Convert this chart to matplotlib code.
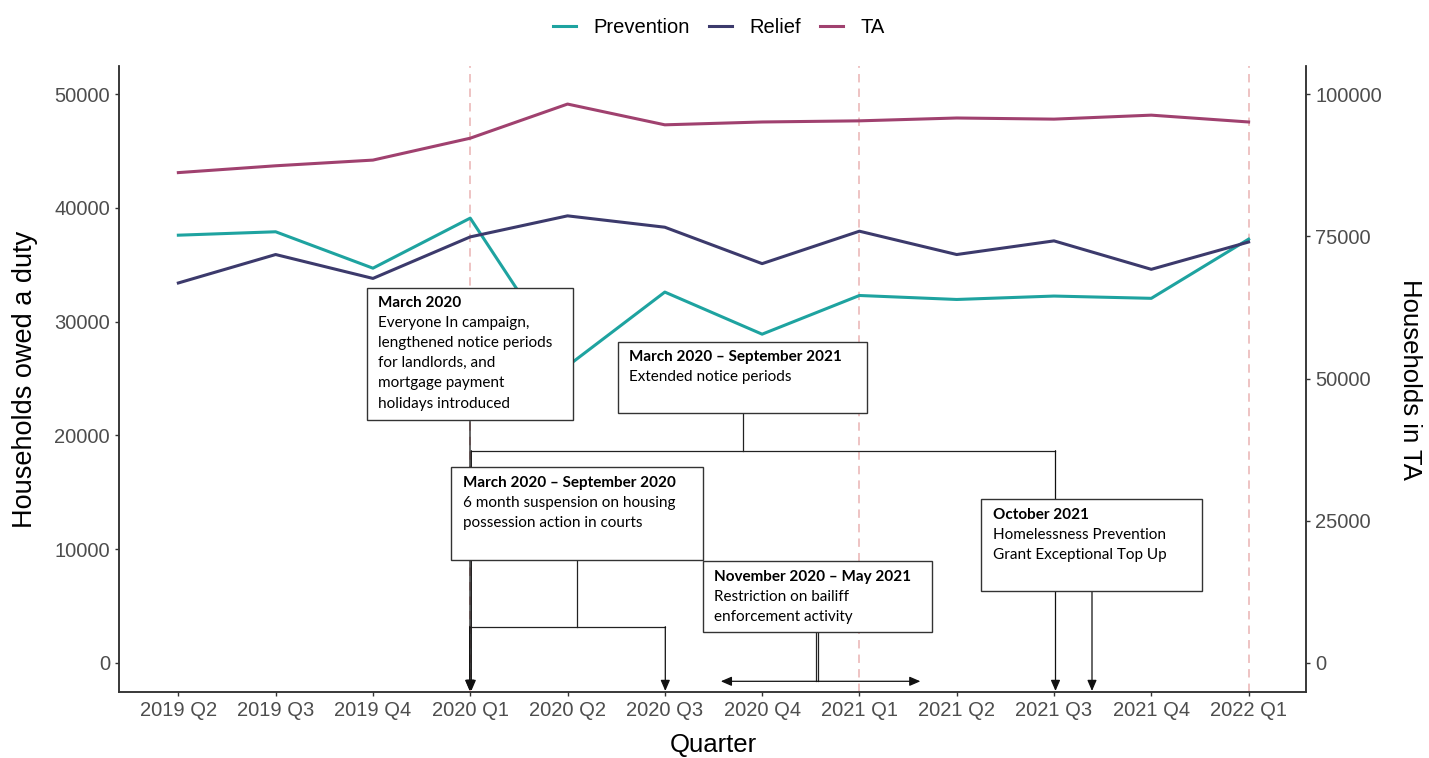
import matplotlib
matplotlib.use("Agg")
import matplotlib.pyplot as plt
from matplotlib.transforms import Affine2D
from matplotlib.patches import Rectangle, FancyArrowPatch
from matplotlib.lines import Line2D

# ---------------- data ----------------
quarters = ["2019 Q2", "2019 Q3", "2019 Q4", "2020 Q1", "2020 Q2", "2020 Q3",
            "2020 Q4", "2021 Q1", "2021 Q2", "2021 Q3", "2021 Q4", "2022 Q1"]
prevention = [37600, 37900, 34700, 39100, 26100, 32600, 28900, 32300, 31950, 32250, 32050, 37250]
relief = [33400, 35900, 33800, 37450, 39300, 38300, 35100, 37950, 35900, 37100, 34600, 37000]
ta = [86200, 87400, 88400, 92250, 98250, 94600, 95100, 95300, 95800, 95600, 96300, 95100]
marker_quarters = ["2020 Q1", "2021 Q1", "2022 Q1"]
left_ticks = [0, 10000, 20000, 30000, 40000, 50000]
right_ticks = [0, 25000, 50000, 75000, 100000]

C_PREV = "#1ea3a0"
C_REL = "#3c3a6c"
C_TA = "#a0416f"
C_DASH = "#eab3b3"
TICKC = "#4d4d4d"

W, H = 1429, 758
fig = plt.figure(figsize=(W / 100, H / 100), dpi=100)
ax = fig.add_axes([119 / W, (H - 692) / H, (1306 - 119) / W, (692 - 66) / H])
ax2 = ax.twinx()

x = list(range(len(quarters)))
for q in marker_quarters:
    ax.axvline(quarters.index(q), color=C_DASH, lw=1.1, ls=(0, (5.5, 4.0)), zorder=1)

l1, = ax.plot(x, prevention, color=C_PREV, lw=2.2, label="Prevention", zorder=3)
l2, = ax.plot(x, relief, color=C_REL, lw=2.2, label="Relief", zorder=3)
l3, = ax2.plot(x, ta, color=C_TA, lw=2.2, label="TA", zorder=3)

ax.set_xlim(-0.61, 11.59)
ax.set_ylim(-2550, 52470)
ax2.set_ylim(-5100, 104940)
ax.set_xticks(x)
ax.set_xticklabels(quarters)
ax.set_yticks(left_ticks)
ax.set_yticklabels([str(v) for v in left_ticks])
ax2.set_yticks(right_ticks)
ax2.set_yticklabels([str(v) for v in right_ticks])

FONT = "Liberation Sans"
for a in (ax, ax2):
    a.spines["top"].set_visible(False)
    for s in ("left", "right", "bottom"):
        a.spines[s].set_color("#333333")
        a.spines[s].set_linewidth(1.1)
    a.tick_params(colors="#333333", labelcolor=TICKC, labelsize=14.5, length=3, width=1.0, pad=3.5)
    for lab in a.get_xticklabels() + a.get_yticklabels():
        lab.set_fontfamily(FONT)
ax.patch.set_visible(False)

ax.set_xlabel("Quarter", fontsize=18.5, fontfamily=FONT)
ax.set_ylabel("Households owed a duty", fontsize=19.5, fontfamily=FONT)
ax2.set_ylabel("Households in TA", fontsize=18.5, fontfamily=FONT, rotation=270, va="center")
ax.xaxis.set_label_coords(0.501, -0.066)
ax.yaxis.set_label_coords(-0.068, 0.5)
ax2.yaxis.set_label_coords(1.088, 0.5)

fig.legend(handles=[l1, l2, l3], loc="upper center", bbox_to_anchor=(0.503, 1.0), ncol=3,
           frameon=False, prop={"family": FONT, "size": 14.5}, handlelength=1.15,
           columnspacing=0.95, handletextpad=0.85)

# ---------------- annotations (reference pixel coords) ----------------
tr = Affine2D().scale(1 / W, -1 / H).translate(0, 1) + fig.transFigure
EDGE = "#333333"
AFONT = "Lato"
ASIZE = 11.0


def seg(x0, y0, x1, y1, z=10):
    fig.add_artist(Line2D([x0, x1], [y0, y1], transform=tr, color="#222222", lw=0.9, zorder=z))


def arrow(x0, y0, x1, y1, style="-|>", z=10):
    fig.add_artist(FancyArrowPatch((x0, y0), (x1, y1), transform=tr,
                                   arrowstyle=style + ",head_length=6.5,head_width=2.8",
                                   mutation_scale=1, color="#111111", lw=0.9,
                                   shrinkA=0, shrinkB=0, zorder=z))


def box(x0, y0, x1, y1, title, lines, tx, ty, z=20):
    fig.add_artist(Rectangle((x0, y0), x1 - x0, y1 - y0, transform=tr, facecolor="white",
                             edgecolor=EDGE, lw=1.0, zorder=z))
    fig.text(tx, ty, title, transform=tr, fontsize=ASIZE, fontweight="bold",
             fontfamily=AFONT, va="center", ha="left", zorder=z + 1)
    for i, ln in enumerate(lines):
        fig.text(tx, ty + 20.2 * (i + 1), ln, transform=tr, fontsize=ASIZE,
                 fontfamily=AFONT, va="center", ha="left", zorder=z + 1)


# box 1 connector
arrow(470, 420, 470, 691)
# box 2 connector
seg(743, 413, 743, 450.7)
seg(471, 450.7, 1055.5, 450.7)
arrow(471.3, 450.7, 471.3, 691)
arrow(1055.5, 450.7, 1055.5, 691)
# box 3 connector
seg(577.3, 560, 577.3, 626.7)
seg(469.7, 626.7, 665.3, 626.7)
arrow(469.7, 626.7, 469.7, 691)
arrow(665.3, 626.7, 665.3, 691)
# box 4 connector
seg(815.6, 632, 815.6, 681.3)
seg(818.0, 632, 818.0, 681.3)
arrow(720.8, 681.3, 920.4, 681.3, style="<|-|>")
# box 5 connector
arrow(1092, 591, 1092, 691)

box(367.5, 287.5, 573.3, 420, "March 2020",
    ["Everyone In campaign,", "lengthened notice periods", "for landlords, and",
     "mortgage payment", "holidays introduced"], 378, 302.7, z=20)
box(617.7, 341.7, 867.3, 413.3, "March 2020 \u2013 September 2021",
    ["Extended notice periods"], 629.3, 357.3, z=22)
box(451.3, 467.3, 702.7, 560, "March 2020 \u2013 September 2020",
    ["6 month suspension on housing", "possession action in courts"], 462.7, 482.7, z=24)
box(702.7, 560.5, 932.3, 632.3, "November 2020 \u2013 May 2021",
    ["Restriction on bailiff", "enforcement activity"], 714.5, 576.7, z=26)
box(981.3, 499.3, 1202.2, 591, "October 2021",
    ["Homelessness Prevention", "Grant Exceptional Top Up"], 992.8, 514.7, z=28)

fig.savefig("out.png", dpi=100, facecolor="white")
